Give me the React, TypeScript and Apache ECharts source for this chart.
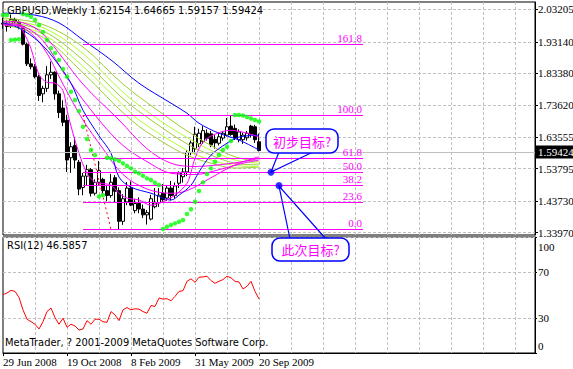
import React, { useEffect, useRef } from "react";
import * as echarts from "echarts";

const FONT = '"Liberation Sans Narrow", "DejaVu Sans Condensed", sans-serif';
const LABEL_FONT = "Liberation Sans Narrow";
const CJK = '"Noto Sans CJK SC", sans-serif';

// x slots: one per week, 4px apart; first slot = week of 29 Jun 2008
const slotCount = 134;
const categories = Array.from({ length: slotCount }, (_, i) => String(i));
const xTickIndex = [0, 16, 32, 48, 64];
const xTickLabels = ["29 Jun 2008", "19 Oct 2008", "8 Feb 2009", "31 May 2009", "20 Sep 2009"];

const priceTicks = [2.03205, 1.9314, 1.8338, 1.7362, 1.63555, 1.53795, 1.4373, 1.3397];
const priceMin = 1.33257;
const priceMax = 2.05467;
const rsiTicks = [0, 30, 70, 100];

// open, high, low, close
const ohlc: number[][] = [
  [1.986, 2.005, 1.972, 1.989],
  [1.989, 1.999, 1.963, 1.979],
  [1.979, 2.016, 1.974, 2.001],
  [2.001, 2.006, 1.985, 1.993],
  [1.993, 1.998, 1.97, 1.978],
  [1.978, 1.981, 1.92, 1.924],
  [1.924, 1.929, 1.856, 1.863],
  [1.863, 1.88, 1.846, 1.854],
  [1.854, 1.862, 1.818, 1.823],
  [1.823, 1.83, 1.748, 1.765],
  [1.77, 1.795, 1.744, 1.787],
  [1.787, 1.856, 1.776, 1.829],
  [1.829, 1.87, 1.816, 1.837],
  [1.837, 1.84, 1.752, 1.77],
  [1.77, 1.78, 1.695, 1.712],
  [1.726, 1.75, 1.67, 1.682],
  [1.688, 1.705, 1.528, 1.565],
  [1.572, 1.62, 1.525, 1.606],
  [1.61, 1.635, 1.54, 1.565],
  [1.558, 1.565, 1.456, 1.475],
  [1.48, 1.525, 1.456, 1.515],
  [1.515, 1.55, 1.485, 1.535],
  [1.535, 1.54, 1.452, 1.462],
  [1.462, 1.505, 1.455, 1.496],
  [1.496, 1.562, 1.488, 1.532],
  [1.505, 1.51, 1.462, 1.47],
  [1.47, 1.484, 1.437, 1.455],
  [1.455, 1.522, 1.448, 1.496],
  [1.51, 1.518, 1.435, 1.468],
  [1.47, 1.48, 1.3503, 1.375],
  [1.375, 1.459, 1.364, 1.445],
  [1.435, 1.497, 1.425, 1.478],
  [1.478, 1.499, 1.422, 1.425],
  [1.408, 1.445, 1.4, 1.43],
  [1.43, 1.449, 1.4, 1.413],
  [1.413, 1.427, 1.385, 1.395],
  [1.395, 1.41, 1.365, 1.402],
  [1.382, 1.457, 1.378, 1.445],
  [1.42, 1.478, 1.415, 1.432],
  [1.432, 1.478, 1.42, 1.456],
  [1.462, 1.49, 1.432, 1.442],
  [1.447, 1.485, 1.438, 1.478],
  [1.478, 1.5, 1.44, 1.455],
  [1.455, 1.495, 1.445, 1.485],
  [1.493, 1.53, 1.478, 1.525],
  [1.513, 1.54, 1.495, 1.528],
  [1.528, 1.595, 1.515, 1.588],
  [1.588, 1.625, 1.58, 1.618],
  [1.6, 1.668, 1.585, 1.645],
  [1.615, 1.662, 1.605, 1.648],
  [1.622, 1.67, 1.615, 1.656],
  [1.648, 1.66, 1.625, 1.632],
  [1.646, 1.655, 1.605, 1.612],
  [1.629, 1.642, 1.6, 1.618],
  [1.617, 1.65, 1.61, 1.637],
  [1.633, 1.655, 1.625, 1.648],
  [1.642, 1.695, 1.638, 1.668],
  [1.67, 1.7043, 1.64, 1.644],
  [1.663, 1.675, 1.627, 1.633],
  [1.628, 1.66, 1.62, 1.652],
  [1.628, 1.65, 1.615, 1.642],
  [1.634, 1.655, 1.625, 1.648],
  [1.67, 1.674, 1.635, 1.645],
  [1.668, 1.674, 1.618, 1.628],
  [1.62154, 1.64665, 1.59157, 1.59424],
];

const sar = [
  2.0144, 2.0144, 1.9369, 1.938, 1.9395, 2.0175, 2.0144, 2.0091, 1.9989, 1.9834,
  1.9617, 1.9369, 1.9112, 1.8966, 1.8749, 1.847, 1.8231, 1.7766, 1.7509, 1.7168,
  1.6681, 1.63, 1.5959, 1.58, 1.452, 1.456, 1.5721, 1.5702, 1.5671, 1.5628,
  1.5547, 1.5463, 1.5392, 1.5287, 1.5237, 1.5163, 1.5082, 1.5029, 1.4946, 1.4874,
  1.351, 1.3581, 1.3634, 1.3687, 1.3736, 1.3789, 1.3975, 1.4124, 1.4356, 1.4689,
  1.4958, 1.5215, 1.5392, 1.5597, 1.5804, 1.5959, 1.6061, 1.6238, 1.7043, 1.7043,
  1.7028, 1.6981, 1.6935, 1.6888, 1.6842,
];

const rsi = [
  50.3, 51.7, 54, 53.1, 47.9, 37.2, 29.1, 27, 24.8, 20.7,
  27, 35.7, 38.7, 30.5, 24.8, 30, 22.2, 24.8, 23.3, 19.8,
  20.7, 27.9, 24.8, 29.1, 29.1, 27, 26.4, 35.7, 32.9, 27.9,
  37.2, 39.2, 37.2, 38.1, 37.8, 35.7, 34.3, 41, 40.1, 47.4,
  46.5, 46.8, 45, 48.8, 53.1, 53.7, 61.8, 63.9, 61, 65.3,
  65.6, 66.2, 62.4, 60.1, 61.8, 63.3, 66.2, 64.8, 61.8, 61.2,
  55.2, 57.5, 61.8, 53.1, 46.59,
];

// moving-average style lines, read as key points [week slot, price]
const blueSlow = [[0, 2.02], [8, 2.014], [14, 1.99], [20, 1.937], [27, 1.875], [34, 1.803], [42, 1.741], [46, 1.71], [49, 1.679], [54, 1.648], [59, 1.627], [64, 1.596]];
const blueFast = [[0, 1.99], [4, 1.974], [9, 1.931], [13, 1.875], [17, 1.803], [20, 1.719], [24, 1.64], [27, 1.586], [29, 1.512], [32, 1.481], [37, 1.462], [42, 1.441], [44, 1.456], [47, 1.487], [49, 1.528], [52, 1.58], [56, 1.617], [59, 1.636], [64, 1.642]];
const magentaFast = [[0, 1.983], [4, 1.983], [5, 1.965], [7, 1.91], [9, 1.83], [11, 1.806], [13, 1.803], [15, 1.78], [16, 1.72], [17, 1.67], [19, 1.586], [21, 1.524], [23, 1.496], [24, 1.493], [27, 1.487], [29, 1.462], [31, 1.447], [34, 1.441], [37, 1.425], [39, 1.431], [43, 1.456], [46, 1.493], [47, 1.527], [48, 1.57], [50, 1.62], [53, 1.645], [57, 1.657], [61, 1.648], [64, 1.636]];
const magentaSlow1 = [[0, 1.985], [5, 1.975], [10, 1.915], [15, 1.8], [20, 1.689], [25, 1.6], [30, 1.52], [36, 1.475], [42, 1.462], [46, 1.47], [52, 1.51], [58, 1.55], [64, 1.575]];
const magentaSlow2 = [[0, 1.99], [5, 1.98], [10, 1.935], [16, 1.82], [24, 1.689], [30, 1.61], [36, 1.56], [42, 1.524], [48, 1.52], [54, 1.535], [60, 1.555], [64, 1.565]];
const magentaSlow3 = [[0, 1.995], [5, 1.99], [10, 1.955], [20, 1.8], [29, 1.689], [36, 1.6], [42, 1.555], [48, 1.545], [54, 1.55], [60, 1.56], [64, 1.57]];
const green1 = [[0, 2.005], [10, 1.985], [20, 1.915], [30, 1.8], [42, 1.689], [46, 1.655], [52, 1.61], [58, 1.575], [64, 1.56]];
const green2 = [[0, 2.0], [10, 1.975], [20, 1.895], [30, 1.775], [39, 1.689], [46, 1.635], [52, 1.595], [58, 1.565], [64, 1.555]];
const green3 = [[0, 1.995], [10, 1.965], [20, 1.875], [30, 1.755], [37, 1.689], [46, 1.615], [52, 1.58], [58, 1.555], [64, 1.55]];
const green4 = [[0, 1.99], [10, 1.955], [20, 1.855], [30, 1.735], [34, 1.689], [46, 1.595], [52, 1.565], [58, 1.548], [64, 1.545]];
const green5 = [[0, 1.985], [10, 1.945], [20, 1.835], [32, 1.689], [40, 1.62], [46, 1.58], [52, 1.555], [58, 1.54], [64, 1.543]];

// Fibonacci retracement
const fibHigh = 1.7043;
const fibLow = 1.3503;
const fibHighSlot = 20;
const fibLowSlot = 27;
const fibEndSlot = 90;
const fibRatios = [1.618, 1.0, 0.618, 0.5, 0.382, 0.236, 0.0];
const fibNames = ["161.8", "100.0", "61.8", "50.0", "38.2", "23.6", "0.0"];

const currentPrice = 1.59424;
const titleSymbol = "GBPUSD,Weekly";
const titleValues = "1.62154 1.64665 1.59157 1.59424";
const rsiText = "RSI(12) 46.5857";
const copyText = "MetaTrader, ? 2001-2009 MetaQuotes Software Corp.";
const callout1 = "初步目标?";
const callout2 = "此次目标?";
const callout1Slot = 67;
const callout2Slot = 69;

const fibValue = (r: number) => fibLow + r * (fibHigh - fibLow);

export default function App() {
  const ref = useRef<HTMLDivElement>(null);
  useEffect(() => {
    const chart = echarts.init(ref.current!, null, { renderer: "svg" });
    const dash = { color: "#C0C0C0", type: [3, 2] as any, width: 1 };
    const lineSeries = (data: number[][], color: string) => ({
      type: "line",
      xAxisIndex: 0,
      yAxisIndex: 0,
      data,
      symbol: "none",
      smooth: 0.35,
      silent: true,
      z: 4,
      lineStyle: { color, width: 1 },
    });
    const fibMarks: any[] = fibRatios.map((r, i) => [
      {
        coord: [fibHighSlot, fibValue(r)],
        name: fibNames[i],
        lineStyle: { color: "#FF00FF", width: 1, type: "solid" },
        label: {
          show: true,
          position: "insideEndTop",
          formatter: fibNames[i],
          color: "#FF00FF",
          fontSize: 11,
          fontFamily: LABEL_FONT,
          distance: 1,
        },
      },
      { coord: [fibEndSlot, fibValue(r)] },
    ]);
    fibMarks.push([
      { coord: [fibHighSlot, fibHigh], lineStyle: { color: "#FF0000", width: 1, type: [2, 3] }, label: { show: false } },
      { coord: [fibLowSlot, fibLow] },
    ]);
    fibMarks.push({
      yAxis: currentPrice,
      lineStyle: { color: "#C0C0C0", width: 1, type: "solid" },
      label: {
        show: true,
        position: "end",
        formatter: currentPrice.toFixed(5),
        backgroundColor: "#000",
        color: "#fff",
        fontSize: 11,
        fontFamily: LABEL_FONT,
        padding: [1, 1, 1, 2],
        distance: 1,
      },
    });

    const option: any = {
      animation: false,
      backgroundColor: "#fff",
      textStyle: { fontFamily: LABEL_FONT },
      grid: [
        { left: 3, top: 2, width: 532, height: 233, show: true, borderColor: "#000", borderWidth: 1, backgroundColor: "#fff", outerBoundsMode: "none", containLabel: false },
        { left: 3, top: 237, width: 532, height: 116, show: true, borderColor: "#000", borderWidth: 1, backgroundColor: "#fff", outerBoundsMode: "none", containLabel: false },
      ],
      xAxis: [
        {
          type: "category",
          gridIndex: 0,
          data: categories,
          boundaryGap: false,
          axisLine: { show: false },
          axisTick: { show: false },
          axisLabel: { show: false },
          splitLine: { show: true, interval: (i: number) => i % 8 === 0 && i > 0, lineStyle: dash },
        },
        {
          type: "category",
          gridIndex: 1,
          data: categories,
          boundaryGap: false,
          position: "bottom",
          axisLine: { show: true, lineStyle: { color: "#000", width: 1 } },
          axisTick: { show: true, length: 3, interval: (i: number) => xTickIndex.includes(i), lineStyle: { color: "#000" } },
          axisLabel: {
            show: true,
            hideOverlap: false,
            interval: (i: number) => xTickIndex.includes(i),
            formatter: (_v: string, i: number) => {
              const k = xTickIndex.indexOf(i);
              return k >= 0 ? xTickLabels[k] : "";
            },
            align: "left",
            margin: 3,
            color: "#000",
            fontSize: 11,
            fontFamily: LABEL_FONT,
          },
          splitLine: { show: true, interval: (i: number) => i % 8 === 0 && i > 0, lineStyle: dash },
        },
      ],
      yAxis: [
        {
          type: "value",
          gridIndex: 0,
          position: "right",
          min: priceMin,
          max: priceMax,
          axisLine: { show: true, lineStyle: { color: "#000", width: 1 } },
          axisTick: { show: true, length: 3, customValues: priceTicks, lineStyle: { color: "#000" } },
          axisLabel: {
            show: true,
            hideOverlap: false,
            customValues: priceTicks,
            formatter: (v: number) => v.toFixed(5),
            color: "#000",
            fontSize: 11,
            fontFamily: LABEL_FONT,
            margin: 3,
          },
          splitLine: { show: true, lineStyle: dash },
        },
        {
          type: "value",
          gridIndex: 1,
          position: "right",
          min: 0,
          max: 100,
          axisLine: { show: true, lineStyle: { color: "#000", width: 1 } },
          axisTick: { show: true, length: 2, customValues: rsiTicks, lineStyle: { color: "#000" } },
          axisLabel: {
            show: true,
            hideOverlap: false,
            customValues: rsiTicks,
            showMinLabel: true,
            showMaxLabel: true,
            margin: 3,
            formatter: (v: number) => (v === 100 ? "{t|100}" : v === 0 ? "{b|0}" : "{m|" + v + "}"),
            rich: {
              t: { padding: [19, 0, 0, 0], fontSize: 11, fontFamily: LABEL_FONT, color: "#000" },
              b: { padding: [0, 0, 15, 0], fontSize: 11, fontFamily: LABEL_FONT, color: "#000" },
              m: { fontSize: 11, fontFamily: LABEL_FONT, color: "#000" },
            },
          },
          splitLine: { show: true, lineStyle: dash },
        },
      ],
      series: [
        {
          type: "candlestick",
          xAxisIndex: 0,
          yAxisIndex: 0,
          data: ohlc.map(([o, h, l, c]) => [o, c, l, h]),
          barWidth: 3,
          z: 3,
          itemStyle: { color: "#fff", color0: "#000", borderColor: "#000", borderColor0: "#000", borderWidth: 1 },
          markLine: { symbol: ["none", "none"], silent: true, animation: false, data: fibMarks },
        },
        lineSeries(green5, "#9ACD32"),
        lineSeries(green4, "#ADFF2F"),
        lineSeries(green3, "#9ACD32"),
        lineSeries(green2, "#ADFF2F"),
        lineSeries(green1, "#9ACD32"),
        lineSeries(magentaSlow3, "#FF00FF"),
        lineSeries(magentaSlow2, "#FF00FF"),
        lineSeries(magentaSlow1, "#FF00FF"),
        lineSeries(blueSlow, "#0000FF"),
        lineSeries(blueFast, "#0000FF"),
        lineSeries(magentaFast, "#FF00FF"),
        {
          type: "scatter",
          xAxisIndex: 0,
          yAxisIndex: 0,
          data: sar.map((v, i) => [i, v]),
          symbol: "circle",
          symbolSize: 4.5,
          itemStyle: { color: "#00FF00" },
          silent: true,
          z: 5,
        },
        {
          type: "scatter",
          xAxisIndex: 0,
          yAxisIndex: 0,
          data: [
            [callout1Slot, fibValue(0.5)],
            [callout2Slot, fibValue(0.382)],
          ],
          symbol: "circle",
          symbolSize: 7,
          itemStyle: { color: "#0000FF" },
          silent: true,
          z: 8,
        },
        {
          type: "line",
          xAxisIndex: 1,
          yAxisIndex: 1,
          data: rsi.map((v, i) => [i, v]),
          symbol: "none",
          silent: true,
          lineStyle: { color: "#FF0000", width: 1 },
        },
      ],
      graphic: [
        { type: "text", left: 7, top: 5, z: 20, style: { text: titleSymbol, fill: "#000", font: "11px " + FONT } },
        { type: "text", left: 90, top: 5, z: 20, style: { text: titleValues, fill: "#000", font: "11px " + FONT } },
        { type: "text", left: 7, top: 240, z: 20, style: { text: rsiText, fill: "#000", font: "11px " + FONT } },
        { type: "text", left: 5, top: 337, z: 20, style: { text: copyText, fill: "#000", font: "11px " + FONT } },
        { type: "polyline", z: 30, shape: { points: [[279, 152], [271, 172], [313, 152]] }, style: { stroke: "#0000FF", lineWidth: 1.2, fill: null } },
        { type: "rect", z: 31, shape: { x: 266, y: 129, width: 72, height: 24, r: 8 }, style: { fill: "#fff", stroke: "#0000FF", lineWidth: 1.5 } },
        { type: "text", z: 32, x: 302, y: 141, style: { text: callout1, fill: "#FF00FF", font: "13px " + CJK, align: "center", verticalAlign: "middle", textAlign: "center", textVerticalAlign: "middle" } },
        { type: "polyline", z: 30, shape: { points: [[290, 239], [279, 186], [326, 239]] }, style: { stroke: "#0000FF", lineWidth: 1.2, fill: null } },
        { type: "rect", z: 31, shape: { x: 272, y: 238, width: 77, height: 23, r: 8 }, style: { fill: "#fff", stroke: "#0000FF", lineWidth: 1.5 } },
        { type: "text", z: 32, x: 310.5, y: 249.5, style: { text: callout2, fill: "#FF00FF", font: "13px " + CJK, align: "center", verticalAlign: "middle", textAlign: "center", textVerticalAlign: "middle" } },
      ],
    };
    chart.setOption(option);
    return () => chart.dispose();
  }, []);
  return (
    <div
      ref={ref}
      style={{ position: "fixed", left: 0, top: 0, width: 573, height: 369, background: "#fff" }}
    />
  );
}
